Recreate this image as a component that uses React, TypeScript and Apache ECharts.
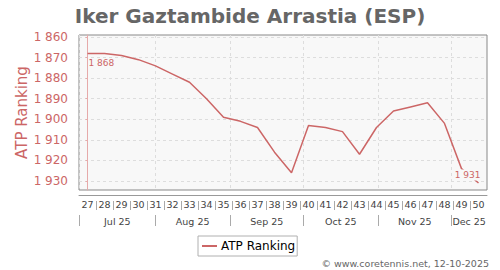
import React, { useEffect, useRef } from 'react';
import * as echarts from 'echarts';

const WEEKS = ['27', '28', '29', '30', '31', '32', '33', '34', '35', '36', '37', '38', '39', '40', '41', '42', '43', '44', '45', '46', '47', '48', '49', '50'];
const RANKING = [1868, 1868, 1869, 1871, 1874, 1878, 1882, 1890, 1899, 1901, 1904, 1916, 1926, 1903, 1904, 1906, 1917, 1904, 1896, 1894, 1892, 1902, 1924, 1931];
const Y_TICKS = [1860, 1870, 1880, 1890, 1900, 1910, 1920, 1930];
const Y_MIN = 1859;
const Y_MAX = 1934.4;
const MONTH_LABELS = ['Jul 25', 'Aug 25', 'Sep 25', 'Oct 25', 'Nov 25', 'Dec 25'];
// month starts expressed in week-index units (0 = week 27)
const MONTH_STARTS = [-0.46, 3.97, 8.4, 12.69, 17.11, 21.4];
const X_MIN = -0.5;
const X_MAX = 23.5;

const MONTH_MIDS = MONTH_STARTS.map((s, i) => (s + (i + 1 < MONTH_STARTS.length ? MONTH_STARTS[i + 1] : X_MAX)) / 2);
// separators between consecutive week labels
const WEEK_SEPS = WEEKS.slice(1).map((_, i) => i + 0.5);

const RED = '#cc6666';
const FONT = 'DejaVu Sans';
const fmt = (v: number) => String(Math.round(v)).replace(/\B(?=(\d{3})+(?!\d))/g, ' ');

export default function App() {
  const ref = useRef<HTMLDivElement>(null);
  useEffect(() => {
    document.body.style.margin = '0';
    const chart = echarts.init(ref.current!, null, { renderer: 'svg' });
    const last = RANKING.length - 1;
    const data = RANKING.map((v, i) => {
      if (i === 0) {
        return { value: v, label: { show: true, position: 'inside', align: 'left', verticalAlign: 'middle', offset: [1, 9] } };
      }
      if (i === last) {
        return { value: v, label: { show: true, position: 'inside', align: 'right', verticalAlign: 'middle', offset: [3, -8], backgroundColor: '#f8f8f8', padding: [1, 1, 1, 1] } };
      }
      return v;
    });
    chart.setOption({
      animation: false,
      textStyle: { fontFamily: FONT },
      title: {
        text: 'Iker Gaztambide Arrastia (ESP)',
        left: 'center',
        top: 1,
        textStyle: { fontFamily: FONT, fontSize: 20, fontWeight: 'bold', color: '#666666' },
      },
      grid: {
        left: 79,
        right: 13,
        top: 35,
        bottom: 80,
        show: true,
        backgroundColor: '#f8f8f8',
        borderColor: '#888888',
        borderWidth: 1,
      },
      legend: {
        left: 198,
        top: 236,
        icon: 'rect',
        itemWidth: 15,
        itemHeight: 2,
        itemGap: 5,
        padding: [4, 2, 4, 4],
        borderColor: '#b0b0b0',
        borderWidth: 1,
        textStyle: { fontFamily: FONT, fontSize: 12, color: '#000000', padding: [0, 0, 0, -1] },
        data: ['ATP Ranking'],
      },
      xAxis: [
        {
          type: 'category',
          data: WEEKS,
          position: 'bottom',
          offset: 10,
          boundaryGap: true,
          axisLine: { show: false },
          axisTick: { show: false },
          axisLabel: { fontFamily: FONT, fontSize: 9.5, color: '#444444', margin: -0.5, interval: 0 },
          splitLine: { show: false },
        },
        {
          type: 'value',
          min: X_MIN,
          max: X_MAX,
          position: 'bottom',
          offset: 25,
          axisLine: { show: false },
          axisTick: { show: true, length: 11, customValues: MONTH_STARTS, lineStyle: { color: '#aaaaaa' } },
          axisLabel: {
            customValues: MONTH_MIDS,
            fontFamily: FONT,
            fontSize: 9.5,
            color: '#444444',
            margin: 1,
            formatter: (v: number) => {
              let best = 0;
              MONTH_MIDS.forEach((m, i) => { if (Math.abs(m - v) < Math.abs(MONTH_MIDS[best] - v)) best = i; });
              return MONTH_LABELS[best];
            },
          },
          splitLine: { show: true, lineStyle: { color: '#dddddd', type: [3, 3] } },
        },
        {
          type: 'value',
          min: X_MIN,
          max: X_MAX,
          position: 'bottom',
          offset: 5,
          axisLine: { show: true, lineStyle: { color: '#999999' } },
          axisTick: { show: false },
          axisLabel: { show: false },
          splitLine: { show: false },
        },
        {
          type: 'value',
          min: X_MIN,
          max: X_MAX,
          position: 'bottom',
          offset: 11,
          axisLine: { show: false },
          axisTick: { show: true, length: 9, customValues: WEEK_SEPS, lineStyle: { color: '#aaaaaa' } },
          axisLabel: { show: false },
          splitLine: { show: false },
        },
      ],
      yAxis: {
        type: 'value',
        inverse: true,
        min: Y_MIN,
        max: Y_MAX,
        offset: 5,
        name: 'ATP Ranking',
        nameLocation: 'middle',
        nameGap: 45,
        nameMoveOverlap: false,
        nameTextStyle: { fontFamily: FONT, fontSize: 15, color: RED },
        axisLine: { show: true, lineStyle: { color: '#e6aaaa' } },
        axisTick: { show: true, length: 2, customValues: Y_TICKS, lineStyle: { color: '#e6aaaa' } },
        axisLabel: { customValues: Y_TICKS, fontFamily: FONT, fontSize: 12, color: RED, margin: 6, formatter: (v: number) => fmt(v) },
        splitLine: { show: true, lineStyle: { color: '#dddddd', type: [3, 3] } },
      },
      series: [
        {
          name: 'ATP Ranking',
          type: 'line',
          xAxisIndex: 0,
          data,
          symbol: 'circle',
          symbolSize: 0,
          showSymbol: true,
          itemStyle: { color: RED },
          lineStyle: { color: RED, width: 1.5 },
          label: { show: false, fontFamily: FONT, fontSize: 9, color: RED, formatter: (p: any) => fmt(p.value) },
          emphasis: { disabled: true },
        },
      ],
      graphic: [
        {
          type: 'text',
          x: 489,
          y: 263,
          style: { text: '\u00a9 www.coretennis.net, 12-10-2025', fontFamily: FONT, fontSize: 9.5, fill: '#666666', align: 'right', verticalAlign: 'middle' },
        },
      ],
    });
    return () => chart.dispose();
  }, []);
  return <div ref={ref} style={{ width: 500, height: 270 }} />;
}
